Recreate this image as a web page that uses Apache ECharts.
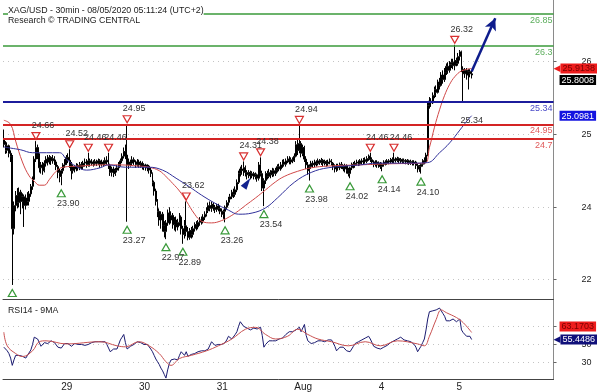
<!DOCTYPE html>
<html><head><meta charset="utf-8">
<script src="https://cdn.jsdelivr.net/npm/echarts@6/dist/echarts.min.js"></script>
<style>html,body{margin:0;padding:0;background:#fff}#c{width:600px;height:392px}</style>
</head><body><div id="c"></div>
<script>
const titleLines = ['XAG/USD - 30min - 08/05/2020 05:11:24 (UTC+2)', 'Research \u00A9 TRADING CENTRAL'];
const rsiTitle = 'RSI14 - 9MA';
const days = ['28','29','30','31','Aug','4','5'];
const barsPerDay = [34,46,46,46,50,46,10];
const emptySlots = 48;
// [open, close, low, high]
const ohlc = [
[24.70,24.60,24.55,24.86],[24.60,24.50,24.44,24.66],[24.50,24.58,24.45,24.64],[24.58,24.45,24.38,24.60],[24.45,24.40,24.30,24.50],
[24.40,23.15,22.18,24.42],[23.15,23.55,23.05,23.62],[23.55,23.72,23.45,23.80],[23.72,23.60,23.50,23.85],[23.60,23.78,23.52,23.86],
[23.78,23.62,23.40,23.82],[23.62,23.70,23.50,23.76],[23.70,23.55,23.18,23.74],[23.55,23.68,23.48,23.74],[23.68,23.62,23.55,23.78],
[23.62,23.75,23.55,23.80],[23.75,23.88,23.70,23.92],[23.88,24.00,23.82,24.05],[24.00,24.35,23.98,24.40],[24.35,24.55,24.30,24.66],
[24.55,24.42,24.35,24.60],[24.42,24.20,24.12,24.45],[24.20,24.25,24.10,24.30],[24.25,24.15,24.08,24.30],[24.15,24.28,24.12,24.33],
[24.28,24.35,24.22,24.40],[24.35,24.30,24.24,24.42],[24.30,24.38,24.26,24.42],[24.38,24.32,24.25,24.40],[24.32,24.36,24.27,24.42],
[24.36,24.30,24.25,24.40],[24.30,24.22,24.16,24.34],[24.22,24.12,24.02,24.25],[24.12,24.05,23.95,24.18],
[24.05,24.15,23.90,24.18],[24.15,24.25,24.10,24.28],[24.25,24.30,24.20,24.35],[24.30,24.38,24.25,24.42],[24.38,24.33,24.28,24.45],
[24.33,24.25,24.20,24.52],[24.25,24.15,24.00,24.30],[24.15,24.22,24.10,24.26],[24.22,24.18,24.12,24.25],[24.18,24.24,24.14,24.28],
[24.24,24.20,24.15,24.27],[24.20,24.26,24.16,24.30],[24.26,24.22,24.17,24.30],[24.22,24.28,24.18,24.32],[24.28,24.30,24.22,24.36],
[24.30,24.26,24.20,24.35],[24.26,24.32,24.22,24.46],[24.32,24.28,24.22,24.36],[24.28,24.30,24.24,24.35],[24.30,24.27,24.22,24.33],
[24.27,24.31,24.24,24.35],[24.31,24.28,24.23,24.34],[24.28,24.32,24.25,24.36],[24.32,24.26,24.20,24.35],[24.26,24.30,24.22,24.34],
[24.30,24.27,24.22,24.33],[24.27,24.33,24.24,24.38],[24.33,24.30,24.25,24.40],[24.30,24.24,24.18,24.46],[24.24,24.12,24.06,24.27],
[24.12,24.18,24.05,24.22],[24.18,24.10,24.04,24.22],[24.10,24.16,24.06,24.20],[24.16,24.20,24.12,24.25],[24.20,24.26,24.15,24.30],
[24.26,24.32,24.22,24.36],[24.32,24.40,24.28,24.45],[24.40,24.48,24.36,24.55],[24.48,24.42,24.35,24.60],[24.42,24.25,23.27,24.95],
[24.25,24.30,24.18,24.36],[24.30,24.28,24.22,24.34],[24.28,24.34,24.24,24.40],[24.34,24.30,24.25,24.38],[24.30,24.26,24.20,24.33],
[24.26,24.30,24.22,24.35],
[24.30,24.25,24.20,24.34],[24.25,24.28,24.20,24.32],[24.28,24.22,24.17,24.31],[24.22,24.25,24.16,24.28],[24.25,24.20,24.15,24.27],
[24.20,24.23,24.14,24.26],[24.23,24.16,24.10,24.25],[24.16,24.10,24.04,24.20],[24.10,23.95,23.88,24.12],[23.95,23.80,23.72,23.98],
[23.80,23.62,23.55,23.84],[23.62,23.45,23.35,23.66],[23.45,23.30,23.20,23.50],[23.30,23.40,23.15,23.45],[23.40,23.20,23.10,23.44],
[23.20,23.10,23.00,23.28],[23.10,23.25,22.97,23.30],[23.25,23.42,23.20,23.48],[23.42,23.30,23.22,23.52],[23.30,23.38,23.24,23.45],
[23.38,23.22,23.15,23.42],[23.22,23.30,23.12,23.35],[23.30,23.18,23.10,23.36],[23.18,23.26,23.12,23.32],[23.26,23.35,23.20,23.42],
[23.35,23.15,23.05,23.38],[23.15,23.05,22.89,23.20],[23.05,23.20,22.98,23.30],[23.20,23.10,23.02,23.62],[23.10,23.00,22.95,23.18],
[23.00,23.12,22.96,23.16],[23.12,23.05,22.98,23.18],[23.05,23.15,23.00,23.20],[23.15,23.22,23.10,23.26],[23.22,23.18,23.12,23.28],
[23.18,23.26,23.14,23.30],[23.26,23.30,23.20,23.35],[23.30,23.28,23.22,23.36],[23.28,23.35,23.24,23.40],[23.35,23.40,23.30,23.45],
[23.40,23.46,23.36,23.52],[23.46,23.55,23.42,23.60],[23.55,23.50,23.45,23.62],[23.50,23.57,23.44,23.62],[23.57,23.52,23.46,23.60],
[23.52,23.48,23.42,23.56],
[23.48,23.54,23.44,23.58],[23.54,23.50,23.45,23.58],[23.50,23.45,23.40,23.55],[23.45,23.40,23.35,23.50],[23.40,23.45,23.32,23.48],
[23.45,23.52,23.26,23.55],[23.52,23.60,23.48,23.64],[23.60,23.66,23.55,23.70],[23.66,23.70,23.60,23.75],[23.70,23.78,23.66,23.82],
[23.78,23.74,23.68,23.84],[23.74,23.82,23.70,23.88],[23.82,23.95,23.78,24.00],[23.95,24.10,23.92,24.15],[24.10,24.18,24.05,24.22],
[24.18,24.15,24.08,24.25],[24.15,24.20,24.06,24.31],[24.20,24.12,24.05,24.24],[24.12,24.08,24.00,24.16],[24.08,24.12,24.02,24.16],
[24.12,24.06,24.00,24.15],[24.06,24.10,24.02,24.14],[24.10,24.05,24.00,24.13],[24.05,24.08,24.00,24.12],[24.08,24.02,23.96,24.10],
[24.02,24.25,23.98,24.30],[24.25,24.10,24.05,24.38],[24.10,23.85,23.80,24.15],[23.85,23.98,23.54,24.02],[23.98,24.10,23.92,24.14],
[24.10,24.05,24.00,24.15],[24.05,24.12,24.02,24.18],[24.12,24.08,24.02,24.16],[24.08,24.15,24.04,24.20],[24.15,24.10,24.05,24.19],
[24.10,24.16,24.06,24.20],[24.16,24.22,24.12,24.26],[24.22,24.18,24.14,24.27],[24.18,24.25,24.15,24.30],[24.25,24.30,24.20,24.34],
[24.30,24.26,24.22,24.35],[24.26,24.32,24.22,24.36],[24.32,24.35,24.28,24.40],[24.35,24.30,24.26,24.40],[24.30,24.34,24.26,24.38],
[24.34,24.32,24.28,24.38],
[24.32,24.40,24.30,24.45],[24.40,24.60,24.38,24.66],[24.60,24.50,24.42,24.70],[24.50,24.62,24.45,24.94],[24.62,24.45,24.38,24.66],
[24.45,24.55,24.40,24.60],[24.55,24.35,24.30,24.58],[24.35,24.25,24.18,24.40],[24.25,24.15,24.08,24.30],[24.15,24.22,23.98,24.26],
[24.22,24.28,24.18,24.32],[24.28,24.25,24.20,24.32],[24.25,24.30,24.21,24.34],[24.30,24.27,24.22,24.33],[24.27,24.32,24.24,24.36],
[24.32,24.29,24.25,24.35],[24.29,24.33,24.25,24.37],[24.33,24.28,24.23,24.35],[24.28,24.31,24.24,24.34],[24.31,24.27,24.22,24.33],
[24.27,24.30,24.23,24.34],[24.30,24.32,24.26,24.36],[24.32,24.28,24.24,24.35],[24.28,24.22,24.16,24.30],[24.22,24.18,24.12,24.26],
[24.18,24.24,24.13,24.27],[24.24,24.20,24.15,24.27],[24.20,24.26,24.16,24.29],[24.26,24.22,24.18,24.30],[24.22,24.18,24.14,24.25],
[24.18,24.24,24.12,24.27],[24.24,24.16,24.10,24.26],[24.16,24.10,24.05,24.20],[24.10,24.20,24.02,24.22],[24.20,24.26,24.16,24.29],
[24.26,24.24,24.19,24.30],[24.24,24.28,24.20,24.32],[24.28,24.30,24.24,24.34],[24.30,24.27,24.23,24.33],[24.27,24.32,24.24,24.35],
[24.32,24.30,24.25,24.36],[24.30,24.34,24.26,24.37],[24.34,24.31,24.27,24.38],[24.31,24.36,24.28,24.40],[24.36,24.40,24.32,24.43],
[24.40,24.34,24.30,24.46],[24.34,24.30,24.25,24.38],[24.30,24.26,24.21,24.33],[24.26,24.30,24.22,24.33],[24.30,24.25,24.20,24.33],
[24.25,24.28,24.20,24.31],[24.28,24.22,24.18,24.30],[24.22,24.26,24.14,24.29],[24.26,24.30,24.22,24.33],[24.30,24.28,24.24,24.33],
[24.28,24.32,24.25,24.35],[24.32,24.30,24.26,24.35],[24.30,24.34,24.27,24.37],[24.34,24.32,24.28,24.38],[24.32,24.35,24.28,24.46],
[24.35,24.33,24.29,24.38],[24.33,24.36,24.30,24.39],[24.36,24.32,24.28,24.38],[24.32,24.34,24.28,24.37],[24.34,24.31,24.27,24.36],
[24.31,24.33,24.27,24.36],[24.33,24.30,24.26,24.35],[24.30,24.32,24.26,24.35],[24.32,24.29,24.25,24.34],[24.29,24.31,24.25,24.34],
[24.31,24.28,24.24,24.33],[24.28,24.30,24.24,24.33],[24.30,24.24,24.18,24.32],[24.24,24.18,24.12,24.27],[24.18,24.22,24.13,24.25],
[24.22,24.26,24.10,24.28],[24.26,24.32,24.22,24.35],[24.32,24.30,24.26,24.38],[24.30,24.42,24.28,24.46],[24.42,25.28,24.40,25.32],
[25.28,25.35,25.22,25.42],[25.35,25.32,25.25,25.40],[25.32,25.45,25.30,25.50],[25.45,25.55,25.40,25.60],[25.55,25.50,25.42,25.62],
[25.50,25.68,25.48,25.72],[25.68,25.62,25.55,25.75],[25.62,25.80,25.60,25.85],[25.80,25.72,25.65,25.88],[25.72,25.85,25.68,25.92],
[25.85,25.95,25.80,26.00],[25.95,25.88,25.82,26.02],[25.88,25.98,25.84,26.04],[25.98,26.02,25.92,26.08],[26.02,25.96,25.90,26.08],
[25.96,26.05,25.88,26.32],
[26.05,26.00,25.95,26.10],[26.00,26.12,25.96,26.18],[26.12,26.20,26.05,26.23],[26.20,25.90,25.85,26.22],[25.90,25.82,25.34,25.95],
[25.82,25.88,25.75,25.92],[25.88,25.80,25.72,25.92],[25.80,25.86,25.55,25.90],[25.86,25.82,25.76,25.90],[25.82,25.80,25.74,25.88]
];
const redMA = [[0,25.02],[4,24.95],[7,24.66],[11,24.30],[15,24.06],[18,23.97],[21,23.90],[24,23.90],[27,24.00],[31,24.14],[35,24.21],[45,24.23],[57,24.25],[68,24.25],[80,24.23],[86,24.21],[92,24.15],[96,24.05],[100,23.93],[104,23.80],[108,23.63],[113,23.40],[117,23.28],[123,23.25],[129,23.29],[135,23.38],[139,23.46],[143,23.55],[149,23.68],[155,23.82],[161,23.96],[166,24.05],[174,24.14],[182,24.20],[192,24.23],[210,24.25],[230,24.27],[249,24.28],[252,24.55],[255,24.90],[258,25.20],[261,25.45],[264,25.64],[267,25.77],[271,25.87],[277,25.9138]];
const blueMA = [[0,24.56],[4,24.54],[10,24.51],[17,24.46],[33,24.46],[37,24.35],[43,24.22],[49,24.16],[57,24.20],[62,24.25],[72,24.21],[86,24.21],[94,24.16],[102,24.02],[110,23.87],[117,23.73],[125,23.59],[133,23.47],[139,23.40],[147,23.42],[155,23.51],[162,23.68],[172,23.95],[182,24.12],[192,24.20],[211,24.25],[221,24.28],[241,24.28],[251,24.29],[258,24.46],[264,24.63],[270,24.85],[274,25.00],[277,25.0981]];
const rsi = [
47,45,43,40,35,27,33,38,37,38, 36,37,36,35,38,40,44,50,58,57, 56,52,48,50,52,53,51,53,54,54,
52,50,47,45,46,48,51,53,51,49, 48,50,51,50,50,49,50,48,49,48, 50,51,52,51,53,52,53,51,53,52,
53,50,46,42,44,45,46,45,50,55, 58,61,52,45,47,48,48,50,52,53, 53,52,51,50,51,50,48,45,42,38,
34,31,28,24,21,17,13,22,29,33, 35,34,32,33,38,42,40,38,42,37, 38,39,40,40,41,42,42,43,42,43,
44,45,47,53,51,49,48,50,51,50, 51,52,55,59,57,56,58,61,64,70, 75,74,70,69,68,67,66,67,68,68,
67,68,69,60,47,50,52,54,53,54, 53,54,55,56,56,57,59,61,63,64, 63,64,65,66,67,69,64,63,72,60,
54,52,51,50,52,53,54,53,54,53, 53,54,55,56,55,52,48,43,45,47, 48,47,45,43,42,42,45,48,51,53,
53,54,55,56,57,58,59,56,52,48, 47,46,45,45,46,47,48,49,50,52, 53,54,55,56,57,58,57,55,54,54,
53,53,52,50,47,42,44,48,52,56, 66,78,86,86,87,87,88,89,90,91, 84,81,76,75,76,77,78,76,75,76,
78,66,63,61,59,58,59,55.45];
const rsiMA = [[0,63.5],[2,48.5],[7,40],[11,36.7],[17,43],[21,53],[25,54],[37,50.6],[57,53],[67,48.5],[72,47.4],[80,53],[86,48.5],[92,40],[96,31],[99,27],[104,34.5],[111,38],[120,43],[127,48.5],[135,56],[143,66.7],[149,68.8],[155,61],[161,56],[168,59],[174,66.7],[180,61],[186,56],[194,53],[204,48.5],[214,53],[223,48.5],[233,54],[245,50.6],[249,48.5],[252,59],[256,77.5],[259,88],[262,85],[268,79.6],[272,74],[277,63.1703]];
const levels = [26.85, 26.3, 25.34, 24.95, 24.7];
const levelLabels = ['26.85','26.3','25.34','24.95','24.7'];
const highMarks = [[19,24.66],[39,24.52],[50,24.46],[62,24.46],[73,24.95],[108,23.62],[142,24.31],[152,24.38],[175,24.94],[217,24.46],[231,24.46],[267,26.32]];
const highLabels = ['24.66','24.52','24.46','24.46','24.95','23.62','24.31','24.38','24.94','24.46','24.46','26.32'];
const lowMarks = [[5,22.18],[34,23.90],[73,23.27],[96,22.97],[106,22.89],[131,23.26],[154,23.54],[181,23.98],[205,24.02],[224,24.14],[247,24.10]];
const lowLabels = ['','23.90','23.27','22.97','22.89','23.26','23.54','23.98','24.02','24.14','24.10'];
const priceTickLabels = ['26','25','24','22'];
const priceTickAt = [26.04, 24.77, 23.52, 22.27];
const rsiTicks = [30, 50, 70];
const priceBoxes = [25.9138, 25.8008, 25.0981];
const rsiBoxes = [63.1703, 55.4486];
const arrowFrom = [277, 25.86], arrowTo = [291, 26.78];
const wedgeAt = [144, 23.94];
const noteAt = [277, 25.01], noteText = '25.34';

const FONT = 'Liberation Sans, Arial, sans-serif';
const yMin = 21.938, yMax = 27.093, rMin = 12, rMax = 100;

const cats = [];
days.forEach((d, k) => { for (let j = 0; j < barsPerDay[k]; j++) cats.push(d + '|' + j); });
for (let j = 0; j < emptySlots; j++) cats.push('+|' + j);
const isDayStart = (i, v) => v.endsWith('|0') && v[0] !== '+' && !v.startsWith('28|');

const levelStyle = [
  {c:'#3a9a3a', t:'#5cae5c', w:1.5}, {c:'#3a9a3a', t:'#5cae5c', w:1.5},
  {c:'#1c1c9c', t:'#4a4ac8', w:2}, {c:'#d42424', t:'#e05a5a', w:2}, {c:'#d42424', t:'#e05a5a', w:2}];
const mainBoxStyle = [{bg:'#ee1c1c', fg:'#7a0000', arrow:true, shift:0}, {bg:'#000000', fg:'#ffffff', arrow:false, shift:5}, {bg:'#1414e0', fg:'#ffffff', arrow:false, shift:0}];
const rsiBoxStyle = [{bg:'#ee1c1c', fg:'#7a0000', arrow:false, shift:-6}, {bg:'#10107a', fg:'#ffffff', arrow:true, shift:0}];

function boxAxis(grid, min, max, value, st) {
  let pad = 0;
  if (st.shift > 0) pad = [st.shift * 2, 0, 0, 0];
  if (st.shift < 0) pad = [0, 0, -st.shift * 2, 0];
  return { type:'value', gridIndex:grid, min, max, position:'right', z:6,
    axisLine:{show:false}, axisTick:{show:false}, splitLine:{show:false},
    axisLabel:{ show:true, customValues:[value], margin: st.arrow ? 0 : 6, align:'left', padding: pad,
      formatter: () => (st.arrow ? '{a|\u25C0}' : '') + '{b|' + value.toFixed(4) + '}',
      rich:{ a:{color:st.bg, fontSize:9, lineHeight:11, fontFamily:'DejaVu Sans'},
             b:{backgroundColor:st.bg, color:st.fg, fontSize:9, padding:[1,2,0,2], lineHeight:10, fontFamily:FONT} } } };
}

const downTri = 'path://M0,0L10,0L5,9Z', upTri = 'path://M5,0L10,9L0,9Z';
const marks = [];
highMarks.forEach((m, k) => marks.push({ coord:m, symbol:downTri, symbolSize:[8,7], symbolOffset:[0,-5],
  itemStyle:{color:'rgba(255,255,255,0)', borderColor:'#d83030', borderWidth:1.2},
  label:{show:true, position:'top', distance:2, offset:[7,0], formatter:highLabels[k], color:'#333', fontSize:9, fontFamily:FONT} }));
lowMarks.forEach((m, k) => marks.push({ coord:m, symbol:upTri, symbolSize:[8,7], symbolOffset:[0,8],
  itemStyle:{color:'rgba(255,255,255,0)', borderColor:'#3a9a3a', borderWidth:1.2},
  label:{show:lowLabels[k] !== '', position:'bottom', distance:2, offset:[7,0], formatter:lowLabels[k], color:'#333', fontSize:9, fontFamily:FONT} }));
marks.push({ coord:wedgeAt, symbol:'triangle', symbolSize:[7,12], symbolRotate:-35, itemStyle:{color:'#13238f'}, label:{show:false} });
marks.push({ coord:noteAt, symbol:'circle', symbolSize:0, label:{show:true, position:'inside', formatter:noteText, color:'#333', fontSize:9, fontFamily:FONT} });

const option = {
  animation:false,
  textStyle:{fontFamily:FONT},
  title:[
    {left:3, top:1, text:'{a|' + titleLines[0] + '}\n{a|' + titleLines[1] + '}',
     textStyle:{fontWeight:'normal', rich:{a:{fontSize:8.8, fontWeight:'normal', color:'#1a1a1a', backgroundColor:'#ffffff', lineHeight:10, fontFamily:FONT}}}},
    {left:3, top:301, text:rsiTitle, textStyle:{fontSize:8.8, fontWeight:'normal', color:'#1a1a1a', fontFamily:FONT}}
  ],
  grid:[{left:3, right:43, top:0, height:299}, {left:3, right:43, top:299, height:82}],
  xAxis:[
    {type:'category', gridIndex:0, data:cats, boundaryGap:true, axisLabel:{show:false}, axisTick:{show:false}, axisLine:{lineStyle:{color:'#444'}}},
    {type:'category', gridIndex:1, data:cats, boundaryGap:true,
     axisLine:{lineStyle:{color:'#444'}},
     axisTick:{interval:isDayStart, length:4, lineStyle:{color:'#333'}},
     axisLabel:{interval:isDayStart, formatter:v => v.split('|')[0], align:'left', margin:3, fontSize:10, color:'#222'}}
  ],
  yAxis:[
    {type:'value', gridIndex:0, min:yMin, max:yMax, position:'right',
     axisLine:{show:true, lineStyle:{color:'#8a8a8a'}},
     axisTick:{show:true, customValues:priceTickAt, length:3, lineStyle:{color:'#666'}},
     splitLine:{show:true, lineStyle:{color:'#c4c4c4', type:[1,4]}},
     axisLabel:{customValues:priceTickAt, align:'right', margin:38, fontSize:9, color:'#222',
       formatter:v => { let b = 0; priceTickAt.forEach((t, k) => { if (Math.abs(t - v) < Math.abs(priceTickAt[b] - v)) b = k; }); return priceTickLabels[b]; }}},
    {type:'value', gridIndex:1, min:rMin, max:rMax, position:'right',
     axisLine:{show:true, lineStyle:{color:'#8a8a8a'}},
     axisTick:{show:true, customValues:rsiTicks, length:3, lineStyle:{color:'#666'}},
     splitLine:{show:true, lineStyle:{color:'#c4c4c4', type:[1,4]}},
     axisLabel:{customValues:rsiTicks, align:'right', margin:38, fontSize:9, color:'#222'}},
    ...priceBoxes.map((v, k) => boxAxis(0, yMin, yMax, v, mainBoxStyle[k])),
    ...rsiBoxes.map((v, k) => boxAxis(1, rMin, rMax, v, rsiBoxStyle[k]))
  ],
  series:[
    {type:'candlestick', xAxisIndex:0, yAxisIndex:0, data:ohlc, barWidth:1.4, z:2,
     itemStyle:{color:'#ffffff', color0:'#000000', borderColor:'#000000', borderColor0:'#000000', borderWidth:1},
     markLine:{silent:true, symbol:'none', z:5,
       data: levels.map((v, k) => ({yAxis:v, lineStyle:{color:levelStyle[k].c, width:levelStyle[k].w, type:'solid'},
         label:{show:true, position:'insideEndBottom', distance:[1,2], formatter:levelLabels[k], color:levelStyle[k].t, fontSize:9, fontFamily:FONT}}))},
     markPoint:{silent:true, z:6, data:marks}},
    {type:'line', xAxisIndex:0, yAxisIndex:0, data:redMA, smooth:0.4, showSymbol:false, z:3, lineStyle:{color:'#d04848', width:1}},
    {type:'line', xAxisIndex:0, yAxisIndex:0, data:blueMA, smooth:0.4, showSymbol:false, z:3, lineStyle:{color:'#30309a', width:1},
     markLine:{silent:true, z:7, symbol:['none','arrow'], symbolSize:[9,12],
       data:[[{coord:arrowFrom}, {coord:arrowTo}]], lineStyle:{color:'#0e1c8c', width:2.5, type:'solid'}, label:{show:false}}},
    {type:'line', xAxisIndex:1, yAxisIndex:1, data:rsi, showSymbol:false, z:3, lineStyle:{color:'#1b1b70', width:1}},
    {type:'line', xAxisIndex:1, yAxisIndex:1, data:rsiMA, smooth:0.4, showSymbol:false, z:3, lineStyle:{color:'#c85050', width:1}}
  ]
};
const chart = echarts.init(document.getElementById('c'));
chart.setOption(option);
</script></body></html>
